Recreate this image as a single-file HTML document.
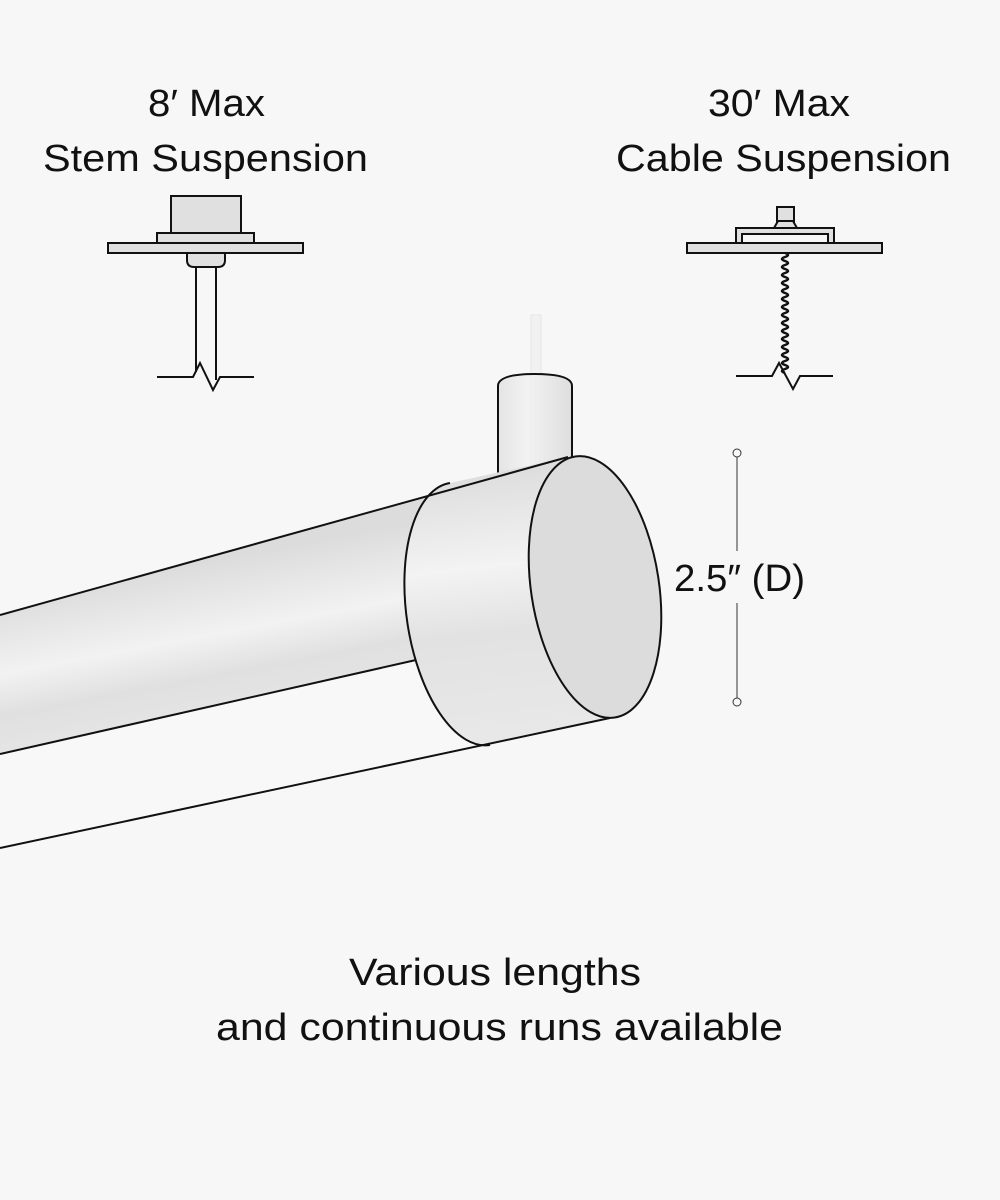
<!DOCTYPE html>
<html><head><style>
html,body{margin:0;padding:0;background:#f7f7f7;}
svg{display:block;}
text{font-family:"Liberation Sans",sans-serif;fill:#111;}
</style></head><body>
<svg width="1000" height="1200" viewBox="0 0 1000 1200" xmlns="http://www.w3.org/2000/svg">
<defs>
<linearGradient id="tube" gradientUnits="userSpaceOnUse" x1="0" y1="600" x2="30" y2="760">
<stop offset="0" stop-color="#dcdcdc"/><stop offset="0.45" stop-color="#f2f2f2"/><stop offset="0.7" stop-color="#e0e0e0"/><stop offset="1" stop-color="#e6e6e6"/>
</linearGradient>
<linearGradient id="sleeve" gradientUnits="userSpaceOnUse" x1="440" y1="480" x2="470" y2="740">
<stop offset="0" stop-color="#dedede"/><stop offset="0.35" stop-color="#f3f3f3"/><stop offset="0.6" stop-color="#e2e2e2"/><stop offset="1" stop-color="#e8e8e8"/>
</linearGradient>
<linearGradient id="stemg" x1="0" y1="0" x2="1" y2="0">
<stop offset="0" stop-color="#e4e4e4"/><stop offset="0.4" stop-color="#f2f2f2"/><stop offset="1" stop-color="#dedede"/>
</linearGradient>
</defs>

<text x="148" y="116" font-size="38" textLength="117" lengthAdjust="spacingAndGlyphs">8′ Max</text>
<text x="43" y="171" font-size="38" textLength="325" lengthAdjust="spacingAndGlyphs">Stem Suspension</text>
<text x="708" y="116" font-size="38" textLength="142" lengthAdjust="spacingAndGlyphs">30′ Max</text>
<text x="616" y="171" font-size="38" textLength="335" lengthAdjust="spacingAndGlyphs">Cable Suspension</text>

<g stroke="#111" stroke-width="2" fill="#e0e0e0">
<rect x="171" y="196" width="70" height="37"/>
<rect x="157" y="233" width="97" height="10"/>
<rect x="108" y="243" width="195" height="10"/>
<path d="M187 253 V260 Q187 267 194 267 H218 Q225 267 225 260 V253 Z"/>
<path d="M196 267 V372 M216 267 V380" fill="none"/>
<path d="M157 377 H193 L200 363 L213 390 L220 377 H254" fill="none"/>
</g>

<g stroke="#111" stroke-width="2" fill="#e0e0e0">
<rect x="777" y="207" width="17" height="15"/>
<path d="M774 228 L778 221 H793 L797 228 Z"/>
<rect x="736" y="228" width="98" height="15"/>
<rect x="742" y="234" width="86" height="9" fill="#f7f7f7"/>
<rect x="687" y="243" width="195" height="10"/>
<path d="M736 376 H772 L779 363 L793 389 L800 376 H833" fill="none"/>
</g>
<path d="M785 253 q6 2 0 4 q-6 2 0 4 q6 2 0 4 q-6 2 0 4 q6 2 0 4 q-6 2 0 4 q6 2 0 4 q-6 2 0 4 q6 2 0 4 q-6 2 0 4 q6 2 0 4 q-6 2 0 4 q6 2 0 4 q-6 2 0 4 q6 2 0 4 q-6 2 0 4 q6 2 0 4 q-6 2 0 4 q6 2 0 4 q-6 2 0 4 q6 2 0 4 q-6 2 0 4 q6 2 0 4 q-6 2 0 4 q6 2 0 4 q-6 2 0 4 q6 2 0 4 q-6 2 0 4 q6 2 0 4 q-6 2 0 4" stroke="#111" stroke-width="2.5" fill="none"/>

<rect x="531" y="315" width="10" height="65" fill="#f1f1f1" stroke="#e6e6e6"/>

<path d="M498 386 Q498 374 535 374 Q572 374 572 386 V470 L498 478 Z" fill="url(#stemg)" stroke="#111" stroke-width="2"/>

<path d="M0 615 L568 457 L480 520 L415 660 L0 754 Z" fill="url(#tube)"/>
<path d="M0 754 L415 660 L488 745 L0 848 Z" fill="#f8f8f8"/>
<path d="M0 754 L416 660" stroke="#111" stroke-width="2" fill="none"/>

<path d="M450 483 A63 132 -8.6 0 0 490 745 L610 718 L568 457 Z" fill="url(#sleeve)"/>
<path d="M450 483 A63 132 -8.6 0 0 490 745" fill="none" stroke="#111" stroke-width="2"/>
<path d="M0 615 L568 457" stroke="#111" stroke-width="2" fill="none"/>
<path d="M0 848 L610 718" stroke="#111" stroke-width="2" fill="none"/>
<ellipse cx="595" cy="587" rx="64" ry="132" transform="rotate(-8.6 595 587)" fill="#dcdcdc" stroke="#111" stroke-width="2"/>

<g stroke="#333" stroke-width="1" fill="#f7f7f7">
<line x1="737" y1="457" x2="737" y2="551"/>
<line x1="737" y1="603" x2="737" y2="698"/>
<circle cx="737" cy="453" r="4"/>
<circle cx="737" cy="702" r="4"/>
</g>
<text x="674" y="591" font-size="38" textLength="131" lengthAdjust="spacingAndGlyphs">2.5″ (D)</text>

<text x="349" y="985" font-size="38" textLength="292" lengthAdjust="spacingAndGlyphs">Various lengths</text>
<text x="216" y="1040" font-size="38" textLength="567" lengthAdjust="spacingAndGlyphs">and continuous runs available</text>
</svg>
</body></html>
